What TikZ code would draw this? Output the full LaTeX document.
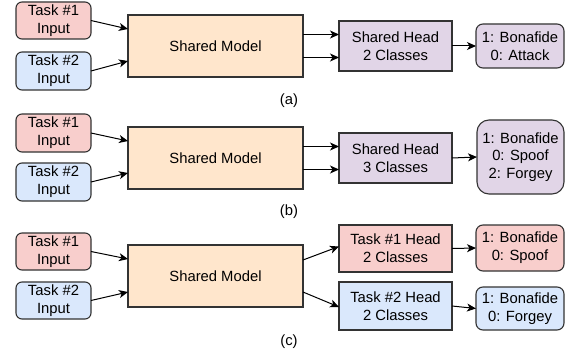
\documentclass[tikz,border=0pt]{standalone}
\usepackage{fontspec}
\setmainfont{Liberation Sans}
\usetikzlibrary{arrows.meta}
\definecolor{redf}{HTML}{F8CECC}
\definecolor{bluef}{HTML}{DAE8FC}
\definecolor{orangef}{HTML}{FFE6CC}
\definecolor{purplef}{HTML}{E1D5E7}
\definecolor{strk}{HTML}{333333}
\tikzset{
  base/.style={draw=strk, line width=1.1pt, align=center, inner sep=0pt, outer sep=0pt,
    font=\fontsize{14.8}{17.8}\selectfont},
  inbox/.style={base, rounded corners=6pt, minimum width=75pt},
  redin/.style={inbox, fill=redf},
  bluein/.style={inbox, fill=bluef},
  model/.style={base, fill=orangef, minimum width=175pt, minimum height=62pt},
  head/.style={base, minimum width=113pt},
  outbox/.style={base, rounded corners=7pt, minimum width=88pt},
  conn/.style={draw=black, line width=1pt, -{Stealth[length=9pt,width=8pt,inset=2.5pt]}},
  captext/.style={font=\fontsize{14.8}{17.8}\selectfont, inner sep=0pt}
}
\begin{document}
\begin{tikzpicture}[x=1pt,y=-1pt]
\useasboundingbox[fill=white] (0,0) rectangle (571,353);
% (a)
\node[redin, minimum height=37pt] (a1) at (53.5,20.5) {Task \#1\\Input};
\node[bluein, minimum height=38pt] (a2) at (53.5,71) {Task \#2\\Input};
\node[model] (am) at (215.5,46) {Shared Model};
\node[head, fill=purplef, minimum height=50pt] (ah) at (395.5,46) {Shared Head\\2 Classes};
\node[outbox, fill=purplef, minimum height=44pt] (ao) at (520,46) {1: Bonafide\\0: Attack};
\node[captext] (la) at (289,101) {(a)};
\draw[conn] (a1.east) -- ([yshift=17pt]am.west);
\draw[conn] (a2.east) -- ([yshift=-15pt]am.west);
\draw[conn] ([yshift=11.5pt]am.east) -- ([yshift=11.5pt]ah.west);
\draw[conn] ([yshift=-11.5pt]am.east) -- ([yshift=-11.5pt]ah.west);
\draw[conn] (ah.east) -- (ao.west);
% (b)
\node[redin, minimum height=38pt] (b1) at (53.5,133) {Task \#1\\Input};
\node[bluein, minimum height=38pt] (b2) at (53.5,182) {Task \#2\\Input};
\node[model] (bm) at (215.5,158) {Shared Model};
\node[head, fill=purplef, minimum height=50pt] (bh) at (395.5,158) {Shared Head\\3 Classes};
\node[outbox, fill=purplef, minimum height=74pt, minimum width=87pt, rounded corners=12pt] (bo) at (520.5,157) {1: Bonafide\\0: Spoof\\2: Forgey};
\node[captext] (lb) at (289,212) {(b)};
\draw[conn] (b1.east) -- ([yshift=17pt]bm.west);
\draw[conn] (b2.east) -- ([yshift=-15pt]bm.west);
\draw[conn] ([yshift=11.5pt]bm.east) -- ([yshift=11.5pt]bh.west);
\draw[conn] ([yshift=-11.5pt]bm.east) -- ([yshift=-11.5pt]bh.west);
\draw[conn] (bh.east) -- (bo.west);
% (c)
\node[redin, minimum height=37pt] (c1) at (53.5,251.5) {Task \#1\\Input};
\node[bluein, minimum height=37pt] (c2) at (53.5,300.5) {Task \#2\\Input};
\node[model] (cm) at (215.5,276) {Shared Model};
\node[head, fill=redf, minimum height=47pt] (ch1) at (395.5,248.5) {Task \#1 Head\\2 Classes};
\node[head, fill=bluef, minimum height=48pt] (ch2) at (395.5,306) {Task \#2 Head\\2 Classes};
\node[outbox, fill=redf, minimum height=46pt] (co1) at (520,248) {1: Bonafide\\0: Spoof};
\node[outbox, fill=bluef, minimum height=43pt] (co2) at (520,308.5) {1: Bonafide\\0: Forgey};
\node[captext] (lc) at (289,342) {(c)};
\draw[conn] (c1.east) -- ([yshift=17pt]cm.west);
\draw[conn] (c2.east) -- ([yshift=-16pt]cm.west);
\draw[conn] ([yshift=16pt]cm.east) -- ([yshift=2pt]ch1.west);
\draw[conn] ([yshift=-16pt]cm.east) -- ([yshift=-1pt]ch2.west);
\draw[conn] (ch1.east) -- (co1.west);
\draw[conn] (ch2.east) -- (co2.west);
\end{tikzpicture}
\end{document}
